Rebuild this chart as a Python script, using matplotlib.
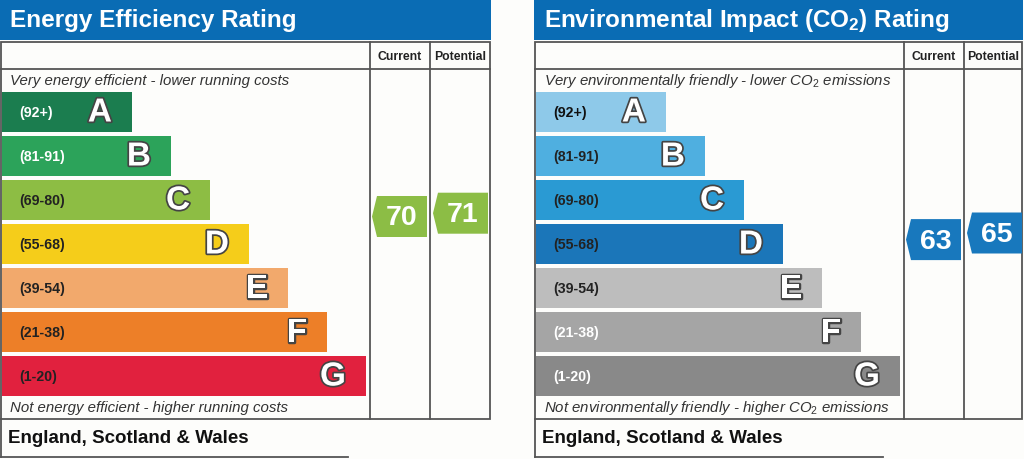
import matplotlib.pyplot as plt
from matplotlib.patches import Rectangle, Polygon
import matplotlib.patheffects as pe

plt.rcParams['font.family'] = ['Liberation Sans', 'DejaVu Sans']
plt.rcParams['mathtext.fontset'] = 'custom'
plt.rcParams['mathtext.rm'] = 'Liberation Sans'
plt.rcParams['mathtext.it'] = 'Liberation Sans:italic'
plt.rcParams['mathtext.bf'] = 'Liberation Sans:bold'

bands = ['A', 'B', 'C', 'D', 'E', 'F', 'G']
ranges = ['(92+)', '(81-91)', '(69-80)', '(55-68)', '(39-54)', '(21-38)', '(1-20)']

ee_colors = ['#1b7d4f', '#2ca35a', '#8dbd44', '#f5cd1a', '#f2a96c', '#ed7f28', '#e1213e']
ee_label_colors = ['white', 'white', '#222222', '#222222', '#222222', '#222222', '#222222']
ei_colors = ['#8ec9e9', '#4fafe0', '#2a9ad3', '#1b76b9', '#bdbdbd', '#a5a5a5', '#898989']
ei_label_colors = ['#111111', '#222222', '#222222', '#222222', '#222222', 'white', 'white']

ee_current, ee_potential = 70, 71
ei_current, ei_potential = 63, 65
ee_arrow = '#8cbd45'
ei_arrow = '#1878bd'

title_blue = '#0a6cb4'
line_col = '#555555'

fig = plt.figure(figsize=(10.24, 4.6), dpi=100)
ax = fig.add_axes([0, 0, 1, 1])
ax.set_xlim(0, 1024)
ax.set_ylim(460, 0)
ax.axis('off')
fig.patch.set_facecolor('#fdfdfb')


def rating_y(r):
    # vertical centre of the pointer for a given SAP rating
    return 217.5 + 3.3 * (70 - r)


def pointer(x0, r, color):
    yc = rating_y(r)
    h = 41
    pts = [(x0, yc), (x0 + 5, yc - h / 2), (x0 + 55, yc - h / 2),
           (x0 + 55, yc + h / 2), (x0 + 5, yc + h / 2)]
    ax.add_patch(Polygon(pts, closed=True, facecolor=color, edgecolor='none'))
    ax.text(x0 + 30, yc + 1, str(r), color='white', fontsize=20.5, fontweight='bold',
            ha='center', va='center')


def panel(x0, right, title, top_txt, bot_txt, colors, lab_cols, arrow_col, cur, pot, foot_w):
    col1 = x0 + 370
    col2 = x0 + 430
    # title bar
    ax.add_patch(Rectangle((x0, 0), right - x0 + 1, 41, facecolor=title_blue, edgecolor='none'))
    ax.text(x0 + 10, 21, title, color='white', fontsize=17.5, fontweight='bold', va='center')
    # frame
    ax.add_patch(Rectangle((x0 + 1, 43), right - x0 - 1, 377, facecolor='none',
                           edgecolor=line_col, lw=1.3))
    ax.plot([x0 + 1, right], [70, 70], color=line_col, lw=1.3)
    ax.plot([col1, col1], [43, 420], color=line_col, lw=1.3)
    ax.plot([col2, col2], [43, 420], color=line_col, lw=1.3)
    ax.text((col1 + col2) / 2, 57, 'Current', fontsize=8.8, fontweight='bold',
            ha='center', va='center', color='#222222')
    ax.text((col2 + right) / 2, 57, 'Potential', fontsize=8.8, fontweight='bold',
            ha='center', va='center', color='#222222')
    ax.text(x0 + 10, 81, top_txt, fontsize=10.8, style='italic', color='#333333', va='center')
    ax.text(x0 + 10, 408, bot_txt, fontsize=10.8, style='italic', color='#333333', va='center')
    # bands
    for i, (b, rg) in enumerate(zip(bands, ranges)):
        top = 93 + 44 * i
        w = 130 + 39 * i
        ax.add_patch(Rectangle((x0 + 2, top), w, 40, facecolor=colors[i], edgecolor='none'))
        ax.text(x0 + 19, top + 20, rg, fontsize=10.2, fontweight='bold', color=lab_cols[i],
                va='center')
        t = ax.text(x0 + 2 + w - 20, top + 21, b, fontsize=24, fontweight='bold',
                    color='white', ha='right', va='center')
        t.set_path_effects([pe.withStroke(linewidth=2.5, foreground='#444444')])
    # pointers
    pointer(col1 + 2, cur, arrow_col)
    pointer(col2 + 3, pot, arrow_col)
    # footer
    ax.plot([x0 + 1, x0 + 1], [420, 458], color=line_col, lw=1.3)
    ax.plot([x0 + 1, x0 + foot_w], [458, 458], color=line_col, lw=1.3)
    ax.text(x0 + 8, 439, 'England, Scotland & Wales', fontsize=13.5, fontweight='bold',
            color='#111111', va='center')


panel(0, 490, 'Energy Efficiency Rating',
      'Very energy efficient - lower running costs',
      'Not energy efficient - higher running costs',
      ee_colors, ee_label_colors, ee_arrow, ee_current, ee_potential, 348)
panel(534, 1022, r'Environmental Impact (CO$_\mathbf{2}$) Rating',
      r'Very environmentally friendly - lower CO$_\mathit{2}$ emissions',
      r'Not environmentally friendly - higher CO$_\mathit{2}$ emissions',
      ei_colors, ei_label_colors, ei_arrow, ei_current, ei_potential, 349)

fig.savefig('out.png', dpi=100, facecolor=fig.get_facecolor())
